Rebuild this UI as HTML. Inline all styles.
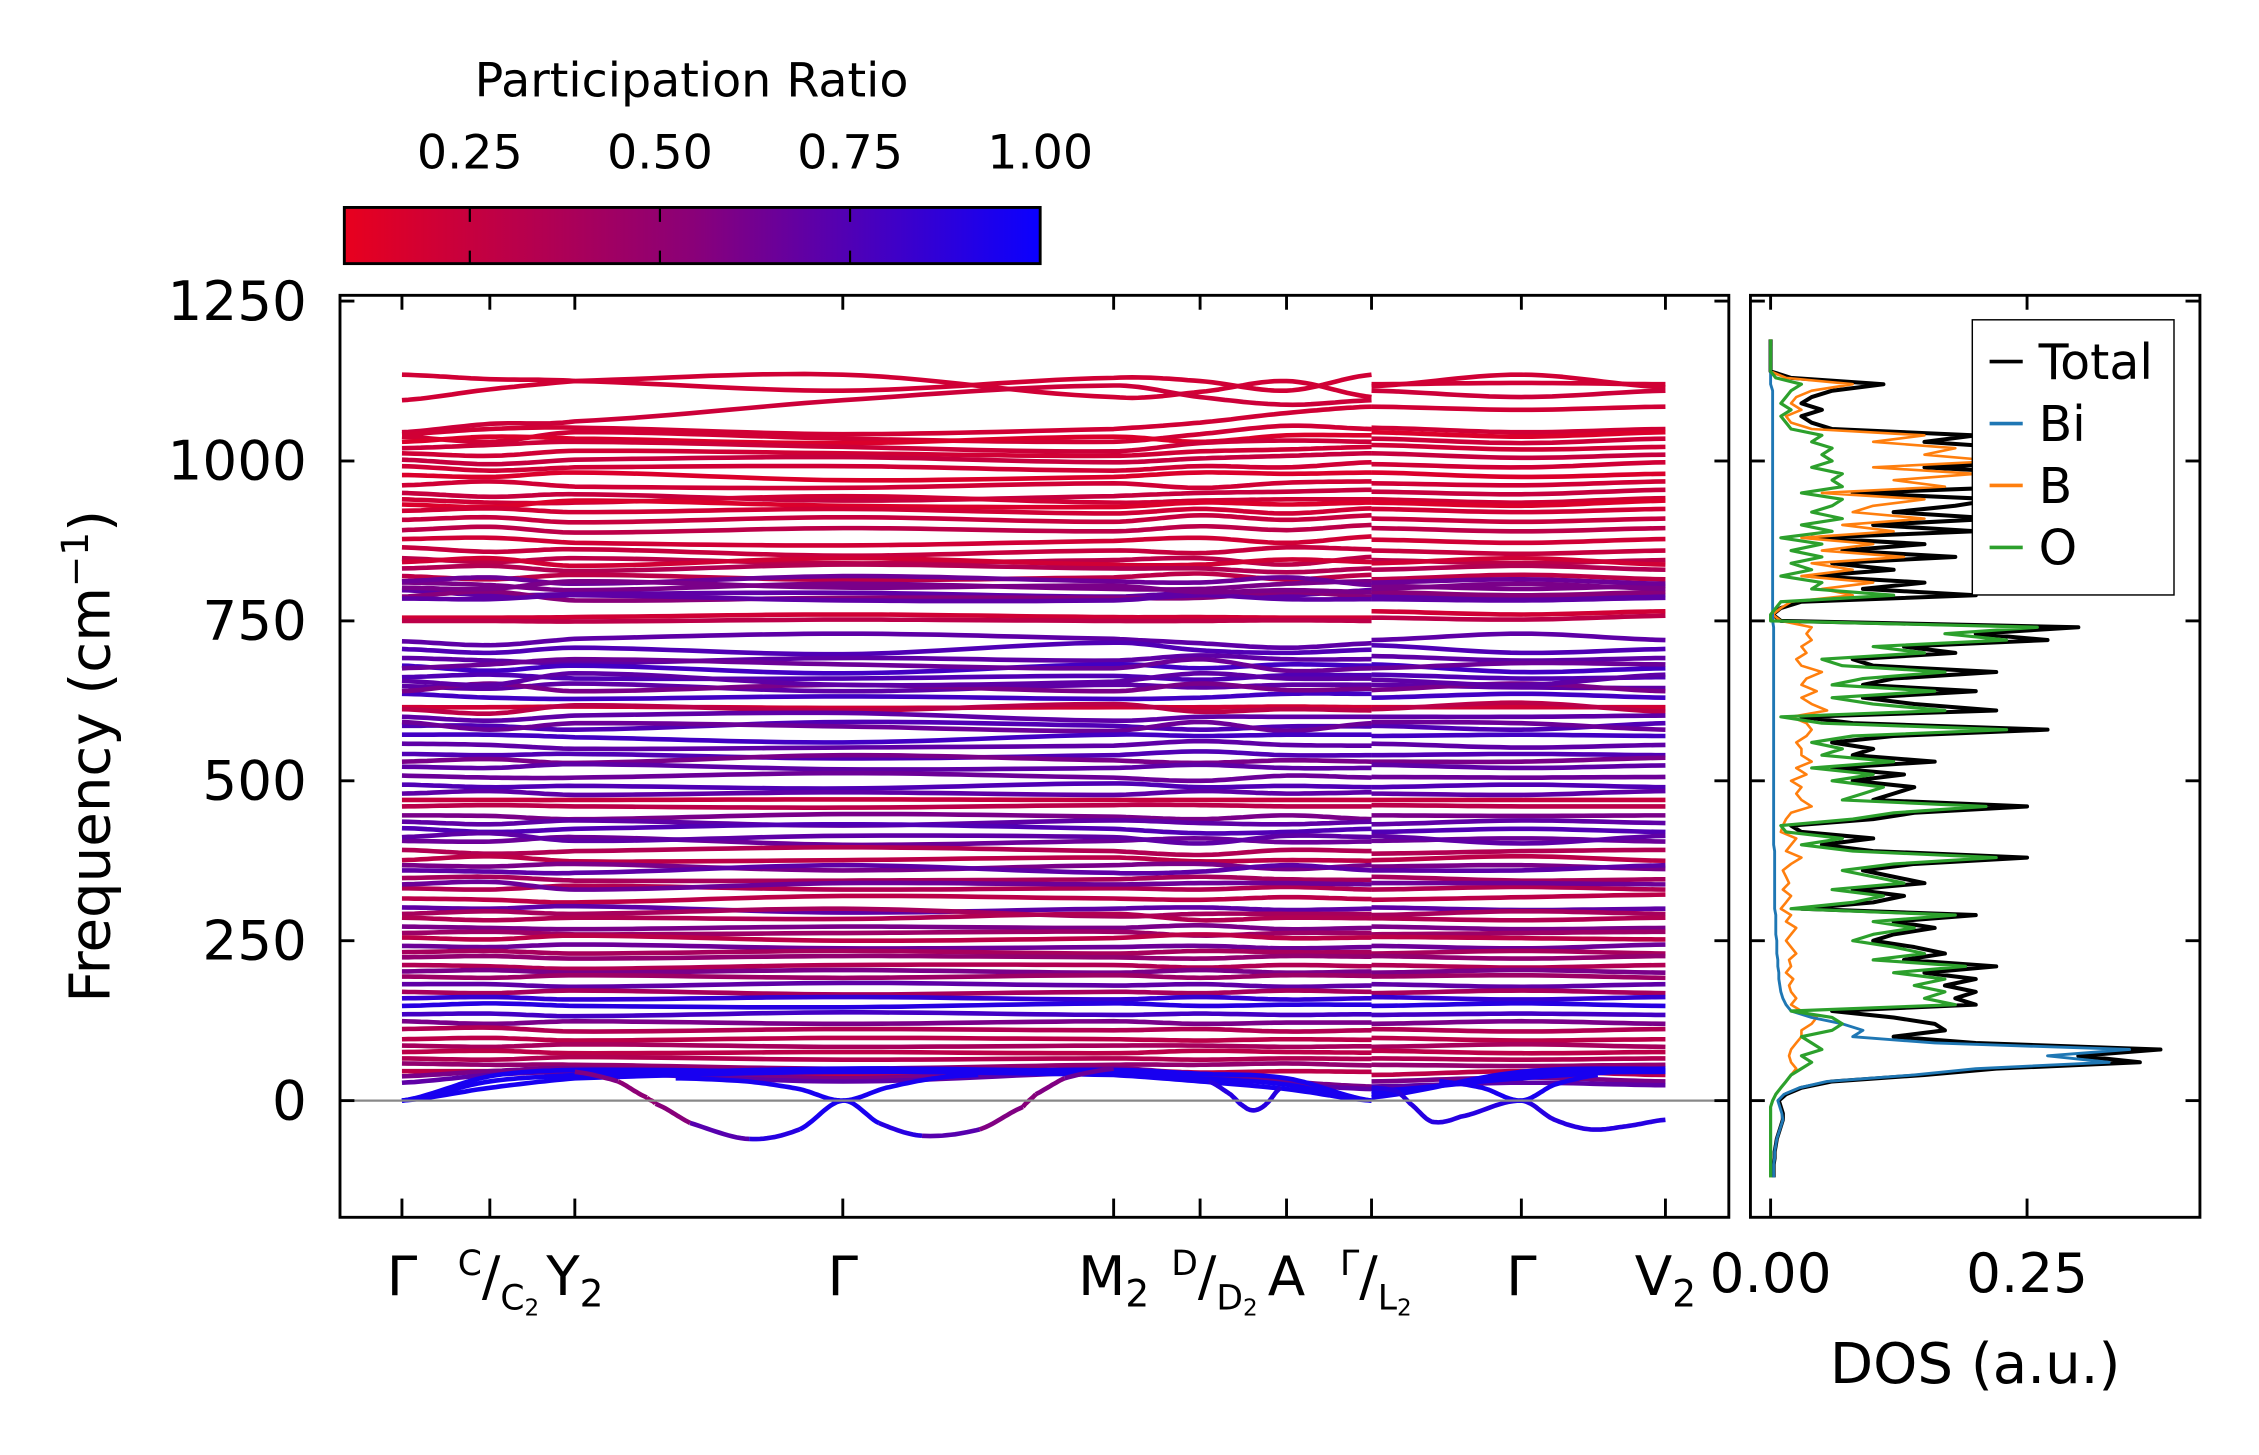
<!DOCTYPE html>
<html><head><meta charset="utf-8"><style>
html,body{margin:0;padding:0;background:#fff}
svg{display:block}
text{font-family:"DejaVu Sans","Liberation Sans",sans-serif;fill:#000}
</style></head><body>
<svg id="fig" width="2259" height="1455" viewBox="0 0 1568 1010" preserveAspectRatio="none" xmlns="http://www.w3.org/2000/svg">
<defs>
<linearGradient id="cmap" x1="0" x2="1" y1="0" y2="0">
<stop offset="0" stop-color="#e8001e"/><stop offset="0.5" stop-color="#8a0078"/><stop offset="1" stop-color="#0a00ff"/>
</linearGradient>
<clipPath id="mainclip"><rect x="236" y="205" width="964" height="640"/></clipPath>
<clipPath id="dosclip"><rect x="1215" y="205" width="312" height="640"/></clipPath>
</defs>
<g>
<text x="480" y="67" font-size="33" text-anchor="middle">Participation Ratio</text>
<rect x="239" y="144" width="483" height="39" fill="url(#cmap)" stroke="#000" stroke-width="2"/>
<g id="cbticks"></g>
</g>
<g id="main">
<g id="bands" clip-path="url(#mainclip)"></g>
<line x1="236" x2="1200" y1="764" y2="764" stroke="#888" stroke-width="1.5"/>
<rect x="236" y="205" width="964" height="640" fill="none" stroke="#000" stroke-width="2"/>
<g id="mainticks"></g>
<text transform="translate(76,525) rotate(-90)" font-size="39" text-anchor="middle">Frequency (cm<tspan font-size="26" dy="-15">−1</tspan><tspan dy="15">)</tspan></text>
</g>
<g id="dos">
<g id="doslines" clip-path="url(#dosclip)"></g>
<rect x="1215" y="205" width="312" height="640" fill="none" stroke="#000" stroke-width="2"/>
<g id="dosticks"></g>
<text x="1371" y="960" font-size="39" text-anchor="middle">DOS (a.u.)</text>
<g>
<rect x="1369" y="222" width="140" height="191" fill="#fff" stroke="#000" stroke-width="1"/>
<g id="legend"></g>
</g>
</g>
</svg>
<script>
// ---- data ----
const kNodes = [0, 0.61, 1.20, 3.06, 4.94, 5.54, 6.14, 6.73, 6.73, 7.77, 8.77];
const uniqK = [0, 0.61, 1.20, 3.06, 4.94, 5.54, 6.14, 6.73, 7.77, 8.77];
const yTicks = [0, 250, 500, 750, 1000, 1250];
const dosTicks = [0.00, 0.25];
const cbTicks = [0.25, 0.50, 0.75, 1.00];
const bandPR = [
0.2,0.2,0.22,0.2,0.2,0.15,0.22,0.2,0.25,0.2,0.15,0.2,0.25,0.2,0.15,0.2,0.25,0.3,0.2,0.25,0.3,0.2,0.35,0.3,0.6,0.7,0.55,0.65,0.7,0.6,0.2,0.3,
0.7,0.75,0.7,0.8,0.65,0.75,0.7,0.8,0.6,0.7,0.2,0.3,0.7,0.75,0.65,0.8,0.7,0.75,0.6,0.7,0.65,0.75,0.7,0.25,0.3,0.6,0.7,0.75,0.65,0.7,
0.35,0.3,0.6,0.7,0.4,0.35,0.65,0.3,0.7,0.4,0.35,0.6,0.45,0.3,0.65,0.4,0.5,0.35,0.6,0.45,0.7,0.4,0.85,0.9,0.8,0.6,0.35,0.3,0.4,0.3,0.35,0.5,0.3,0.6,0.7,0.95,0.95,0.95];
const bandFreq = [
[1135,1128,1125,1110,1130,1125,1110,1135,1120,1122,1120],
[1095,1112,1125,1135,1100,1108,1125,1100,1117,1135,1115],
[1045,1058,1062,1095,1118,1100,1088,1095,1110,1100,1110],
[1042,1050,1052,1042,1050,1060,1075,1085,1085,1080,1085],
[1038,1030,1045,1035,1030,1042,1055,1050,1052,1045,1050],
[1030,1038,1035,1028,1038,1030,1040,1040,1045,1038,1045],
[1020,1025,1030,1022,1015,1028,1032,1030,1035,1028,1035],
[1012,1008,1016,1012,1008,1015,1018,1022,1025,1018,1022],
[1002,995,1002,1006,998,1004,1008,1012,1012,1005,1010],
[992,985,990,992,985,992,990,998,995,990,998],
[978,975,982,970,975,982,980,982,982,975,980],
[962,968,960,958,965,958,966,968,965,962,968],
[950,944,948,938,945,950,952,955,952,948,955],
[940,935,935,945,935,938,940,940,940,935,942],
[932,928,938,930,928,935,932,935,935,930,938],
[922,926,920,925,918,925,918,926,925,920,925],
[908,912,904,912,905,915,908,915,910,905,910],
[892,897,888,895,890,898,892,900,895,890,895],
[878,880,872,868,875,880,872,882,877,872,878],
[865,858,862,852,860,856,865,862,860,855,860],
[848,842,848,840,845,848,838,850,845,840,845],
[842,848,836,848,838,838,846,842,840,848,838],
[832,836,828,838,832,832,826,832,830,836,830],
[820,815,822,814,818,824,815,822,815,822,815],
[810,806,798,808,800,800,808,812,805,800,805],
[798,790,792,794,788,794,790,798,790,785,790],
[788,796,782,786,786,786,795,788,795,790,795],
[812,818,808,820,812,810,818,806,810,815,808],
[785,784,790,782,782,790,784,784,784,782,786],
[802,800,812,802,805,795,798,795,800,808,800],
[755,755,756,760,756,756,755,755,765,760,765],
[750,750,749,752,750,750,751,750,755,752,758],
[718,712,722,730,722,715,708,715,720,730,720],
[706,700,708,698,716,704,700,705,712,700,706],
[692,688,684,692,688,696,690,690,695,688,692],
[680,672,680,668,682,676,682,680,682,670,676],
[676,682,690,682,676,690,672,676,676,684,682],
[662,666,660,660,664,658,665,665,666,660,662],
[648,644,652,640,650,646,650,650,650,646,645],
[636,630,628,632,628,630,636,636,630,636,630],
[640,652,640,650,640,652,642,644,642,652,640],
[656,650,668,650,655,668,660,660,658,650,666],
[615,615,616,614,615,615,616,615,615,615,615],
[612,605,618,610,620,608,612,610,612,622,608],
[600,594,602,606,594,600,600,600,600,600,602],
[586,586,580,592,586,580,585,585,586,580,590],
[592,580,590,585,578,592,578,590,592,590,580],
[572,572,568,560,572,570,572,572,570,572,570],
[558,556,550,552,555,562,556,555,558,552,556],
[542,540,542,535,540,546,540,540,540,542,540],
[530,534,528,540,532,528,532,530,530,530,536],
[522,520,526,518,520,525,520,520,525,520,524],
[508,505,505,512,505,500,508,505,506,505,506],
[494,490,492,488,496,490,492,490,490,494,490],
[480,484,478,482,478,484,480,482,480,478,484],
[470,470,470,471,470,470,470,470,470,470,470],
[460,462,460,458,462,462,460,460,462,460,460],
[446,445,440,448,444,440,446,440,446,445,446],
[436,432,438,430,438,434,432,436,432,438,434],
[426,420,425,432,425,418,420,425,420,425,420],
[406,405,412,400,406,410,404,405,406,410,405],
[412,418,406,414,412,402,414,412,414,402,414],
[392,386,390,396,390,384,392,390,386,390,392],
[376,382,374,376,380,374,376,375,376,382,375],
[368,366,370,360,368,370,362,368,366,368,362],
[360,358,356,368,356,358,368,360,360,360,368],
[348,350,344,344,346,350,346,345,350,344,346],
[332,330,336,330,332,330,334,330,330,334,330],
[338,342,330,340,338,340,340,338,340,340,338],
[316,314,310,320,316,314,318,315,314,318,322],
[302,300,304,294,300,302,298,300,302,298,300],
[292,296,292,300,288,292,292,292,290,296,292],
[286,282,286,284,292,282,286,285,285,282,286],
[272,270,268,272,270,274,268,270,272,268,270],
[262,264,260,262,264,258,262,262,260,262,264],
[255,252,258,250,254,260,254,255,256,254,252],
[242,240,244,238,240,242,238,240,242,238,244],
[232,234,230,234,230,234,232,232,230,234,230],
[224,226,222,226,224,222,226,225,226,222,226],
[212,210,206,212,212,208,212,210,212,208,212],
[202,204,200,204,200,204,200,202,200,204,200],
[194,192,196,192,196,192,196,195,194,196,192],
[182,182,178,184,180,182,178,180,182,178,182],
[170,168,172,166,170,168,172,170,168,172,168],
[160,162,158,162,158,162,158,160,162,158,162],
[148,152,148,146,152,148,150,150,148,152,148],
[135,136,132,138,134,136,134,135,134,136,134],
[124,120,124,120,124,120,122,122,120,124,120],
[112,114,108,112,110,112,108,110,112,108,112],
[96,98,94,98,96,94,96,95,98,94,96],
[86,84,88,84,86,86,84,85,84,88,84],
[76,78,74,76,74,78,76,75,78,74,76],
[66,64,68,64,66,64,66,65,66,64,66],
[58,56,56,50,56,56,58,55,56,54,56],
[46,46,48,40,48,44,46,45,40,46,40],
[38,46,50,35,50,40,30,22,30,36,30],
[28,40,44,30,44,38,26,18,22,28,24],
[0,38,48,45,48,42,35,0,10,40,45],
[0,30,40,50,45,35,25,0,5,45,50],
[0,20,35,45,40,30,18,0,15,35,48]
];
// soft (imaginary) branches
const softAk = [1.2,1.5,1.7,1.76,2.0,2.41,2.76,3.06,3.31,3.61,4.01,4.31,4.4,4.6,4.94];
const softAf = [45,30,5,-5,-35,-60,-45,0,-35,-55,-45,-10,10,35,50];
const softApr = [0.6,0.55,0.5,0.5,0.6,0.85,0.95,0.95,0.95,0.85,0.6,0.55,0.55,0.6,0.7];
const softBk = [1.9,2.4,2.76,3.06,3.36,3.7,4.0];
const softBf = [35,30,18,0,20,35,40];
const softCk = [6.73,6.9,7.0,7.15,7.35,7.77,8.0,8.25,8.5,8.77];
const softCf = [20,15,-5,-33,-25,0,-30,-45,-40,-30];
const softDk = [7.2,7.5,7.77,8.0,8.3];
const softDf = [30,20,0,25,40];
const softEk = [5.6,5.75,5.85,5.92,6.0,6.1];
const softEf = [30,10,-10,-15,-5,20];
// DOS data (frequency grid -120..1190 step 10)
const dosFreq = [];
for (let f = -120; f <= 1190; f += 10) dosFreq.push(f);
const dosTotal = [0.003,0.003,0.003,0.004,0.004,0.005,0.006,0.008,0.01,0.012,0.012,0.01,0.008,0.015,0.03,0.06,0.15,0.22,0.36,0.3,0.38,0.2,0.12,0.17,0.16,0.12,0.06,0.2,0.18,0.2,0.17,0.2,0.15,0.22,0.13,0.17,0.14,0.1,0.12,0.16,0.12,0.2,0.03,0.1,0.13,0.08,0.15,0.12,0.09,0.14,0.25,0.1,0.05,0.1,0.03,0.02,0.1,0.14,0.25,0.1,0.12,0.14,0.08,0.13,0.06,0.16,0.08,0.1,0.06,0.12,0.27,0.08,0.03,0.22,0.14,0.09,0.2,0.09,0.12,0.22,0.1,0.08,0.18,0.13,0.27,0.2,0.3,0.01,0.002,0.01,0.03,0.2,0.09,0.15,0.04,0.12,0.06,0.18,0.07,0.15,0.04,0.2,0.1,0.22,0.12,0.18,0.22,0.08,0.25,0.2,0.27,0.15,0.28,0.2,0.24,0.15,0.2,0.06,0.04,0.03,0.05,0.03,0.04,0.06,0.11,0.02,0,0,0,0,0,0];
const dosBi = [0.003,0.003,0.003,0.004,0.004,0.005,0.006,0.008,0.01,0.012,0.011,0.009,0.007,0.013,0.028,0.055,0.14,0.2,0.33,0.27,0.35,0.16,0.08,0.09,0.07,0.04,0.02,0.015,0.012,0.01,0.009,0.008,0.008,0.007,0.007,0.006,0.006,0.006,0.005,0.005,0.005,0.005,0.004,0.004,0.004,0.004,0.004,0.004,0.004,0.004,0.004,0.004,0.003,0.003,0.003,0.003,0.003,0.003,0.003,0.003,0.003,0.003,0.003,0.003,0.003,0.003,0.003,0.003,0.003,0.003,0.003,0.003,0.003,0.003,0.003,0.003,0.003,0.003,0.003,0.003,0.003,0.003,0.003,0.003,0.003,0.003,0.003,0.002,0.002,0.002,0.002,0.002,0.002,0.002,0.002,0.002,0.002,0.002,0.002,0.002,0.002,0.002,0.002,0.002,0.002,0.002,0.002,0.002,0.002,0.002,0.002,0.002,0.002,0.002,0.002,0.002,0.002,0.002,0.002,0.002,0.002,0.002,0.002,0.002,0,0,0,0,0,0,0];
const dosB = [0,0,0,0,0,0,0,0,0,0,0,0,0.002,0.005,0.01,0.015,0.02,0.025,0.02,0.018,0.02,0.025,0.03,0.03,0.04,0.045,0.03,0.02,0.025,0.02,0.018,0.022,0.015,0.02,0.018,0.025,0.02,0.015,0.02,0.025,0.015,0.02,0.01,0.015,0.02,0.012,0.018,0.015,0.012,0.02,0.03,0.015,0.02,0.025,0.01,0.012,0.015,0.02,0.04,0.03,0.025,0.03,0.02,0.035,0.025,0.04,0.03,0.03,0.025,0.035,0.04,0.035,0.02,0.055,0.04,0.03,0.045,0.03,0.035,0.05,0.03,0.025,0.035,0.03,0.04,0.035,0.04,0.01,0.002,0.01,0.02,0.08,0.05,0.1,0.03,0.08,0.04,0.13,0.05,0.1,0.03,0.12,0.07,0.15,0.08,0.1,0.15,0.05,0.17,0.12,0.2,0.1,0.22,0.15,0.18,0.1,0.15,0.04,0.02,0.015,0.03,0.02,0.025,0.04,0.08,0.015,0,0,0,0,0,0];
const dosO = [0,0,0,0,0,0,0,0,0,0,0,0,0.002,0.005,0.01,0.015,0.02,0.03,0.04,0.03,0.05,0.04,0.03,0.06,0.07,0.06,0.02,0.18,0.15,0.17,0.14,0.17,0.12,0.19,0.1,0.15,0.12,0.08,0.1,0.14,0.1,0.18,0.02,0.08,0.11,0.06,0.13,0.1,0.07,0.12,0.22,0.08,0.03,0.07,0.015,0.01,0.08,0.12,0.21,0.07,0.09,0.11,0.06,0.1,0.04,0.12,0.05,0.07,0.04,0.08,0.23,0.05,0.01,0.17,0.1,0.06,0.16,0.06,0.09,0.17,0.07,0.05,0.15,0.1,0.23,0.17,0.26,0.0,0.0,0.005,0.01,0.12,0.04,0.05,0.01,0.04,0.02,0.05,0.02,0.05,0.01,0.06,0.03,0.07,0.04,0.06,0.07,0.03,0.07,0.06,0.07,0.04,0.06,0.05,0.06,0.04,0.05,0.02,0.015,0.01,0.02,0.01,0.015,0.02,0.03,0.005,0,0,0,0,0,0];

// ---- axis functions ----
const NS = "http://www.w3.org/2000/svg";
const xk = k => 279 + k * 100;
const yf = f => 764 - f * (111 / 250);
const xd = d => 1229 + d * (178 / 0.25);
const xcb = v => 239 + (v - 0.085) / (1 - 0.085) * 483;
function prColor(pr) {
  let t = Math.max(0, Math.min(1, (pr - 0.085) / (1 - 0.085)));
  let r, b;
  if (t < 0.5) { const u = t / 0.5; r = 232 + (138 - 232) * u; b = 30 + (120 - 30) * u; }
  else { const u = (t - 0.5) / 0.5; r = 138 + (10 - 138) * u; b = 120 + (255 - 120) * u; }
  return `rgb(${Math.round(r)},0,${Math.round(b)})`;
}
function mk(tag, attrs, parent) {
  const e = document.createElementNS(NS, tag);
  for (const a in attrs) e.setAttribute(a, attrs[a]);
  parent.appendChild(e);
  return e;
}
function catmull(xs, ys, n) {
  const pts = [];
  for (let i = 0; i < xs.length - 1; i++) {
    const y0 = ys[Math.max(0, i - 1)], y1 = ys[i], y2 = ys[i + 1], y3 = ys[Math.min(ys.length - 1, i + 2)];
    const x1 = xs[i], x2 = xs[i + 1];
    for (let s = 0; s < n; s++) {
      const t = s / n, t2 = t * t, t3 = t2 * t;
      const py = 0.5 * ((2 * y1) + (-y0 + y2) * t + (2 * y0 - 5 * y1 + 4 * y2 - y3) * t2 + (-y0 + 3 * y1 - 3 * y2 + y3) * t3);
      pts.push([x1 + (x2 - x1) * t, py]);
    }
  }
  pts.push([xs[xs.length - 1], ys[ys.length - 1]]);
  return pts;
}
const bandsG = document.getElementById('bands');
function drawPiece(ks, fs, color, name) {
  const pts = catmull(ks.map(xk), fs.map(yf), 14);
  const p = mk('polyline', {points: pts.map(p => p[0].toFixed(1) + ',' + p[1].toFixed(1)).join(' '), fill: 'none', stroke: color, 'stroke-width': 3.2, 'stroke-linejoin': 'round'}, bandsG);
  
  
}
bandFreq.forEach((row, i) => {
  const c = prColor(bandPR[i]);
  drawPiece(kNodes.slice(0, 8), row.slice(0, 8), c, 'phonon-band');
  drawPiece(kNodes.slice(8), row.slice(8), c, 'phonon-band');
});
(function () {
  const all = catmull(softAk.map(xk), softAf.map(yf), 14);
  for (let i = 0; i < softAk.length - 1; i++) {
    const pts = all.filter(p => p[0] >= xk(softAk[i]) - 0.01 && p[0] <= xk(softAk[i + 1]) + 0.01);
    const p = mk('polyline', {points: pts.map(p => p[0].toFixed(1) + ',' + p[1].toFixed(1)).join(' '), fill: 'none', stroke: prColor((softApr[i] + softApr[i + 1]) / 2), 'stroke-width': 3.2}, bandsG);
    
    
  }
})();
drawPiece(softBk, softBf, prColor(0.95), 'soft-mode-branch');
drawPiece(softCk, softCf, prColor(0.9), 'soft-mode-branch');
drawPiece(softDk, softDf, prColor(0.95), 'soft-mode-branch');
drawPiece(softEk, softEf, prColor(0.9), 'soft-mode-branch');

// main ticks
const mt = document.getElementById('mainticks');
yTicks.forEach(v => {
  const y = yf(v);
  let l = mk('line', {x1: 236, x2: 246, y1: y, y2: y, stroke: '#000', 'stroke-width': 2}, mt);
   
  l = mk('line', {x1: 1190, x2: 1200, y1: y, y2: y, stroke: '#000', 'stroke-width': 2}, mt);
   
  const t = mk('text', {x: 213, y: y + 13, 'font-size': 38, 'text-anchor': 'end'}, mt);
  t.textContent = v;
   
});
uniqK.forEach(k => {
  const x = xk(k);
  let l = mk('line', {x1: x, x2: x, y1: 845, y2: 832, stroke: '#000', 'stroke-width': 2}, mt);
   
  l = mk('line', {x1: x, x2: x, y1: 205, y2: 215, stroke: '#000', 'stroke-width': 2}, mt);
   
});
const kl = [
  {x: 279, html: 'Γ'},
  {x: 346, html: '<tspan font-size="24" dy="-14">C</tspan><tspan dy="14">/</tspan><tspan font-size="24" dy="10">C</tspan><tspan font-size="16" dy="4">2</tspan>'},
  {x: 399, html: 'Y<tspan font-size="26" dy="8">2</tspan>'},
  {x: 585, html: 'Γ'},
  {x: 773, html: 'M<tspan font-size="26" dy="8">2</tspan>'},
  {x: 843, html: '<tspan font-size="24" dy="-14">D</tspan><tspan dy="14">/</tspan><tspan font-size="24" dy="10">D</tspan><tspan font-size="16" dy="4">2</tspan>'},
  {x: 893, html: 'A'},
  {x: 955, html: '<tspan font-size="24" dy="-14">Γ</tspan><tspan dy="14">/</tspan><tspan font-size="24" dy="10">L</tspan><tspan font-size="16" dy="4">2</tspan>'},
  {x: 1056, html: 'Γ'},
  {x: 1156, html: 'V<tspan font-size="26" dy="8">2</tspan>'}
];
kl.forEach(o => {
  const t = mk('text', {x: o.x, y: 899, 'font-size': 38, 'text-anchor': 'middle'}, mt);
  t.innerHTML = o.html;
   
});

// colorbar ticks
const cbt = document.getElementById('cbticks');
cbTicks.forEach(v => {
  const x = xcb(v);
  const l = mk('line', {x1: x, x2: x, y1: 144, y2: 183, stroke: '#000', 'stroke-width': 1.5, 'stroke-dasharray': '10,20'}, cbt);
   
  const t = mk('text', {x: x, y: 117, 'font-size': 33, 'text-anchor': 'middle'}, cbt);
  t.textContent = v.toFixed(2);
   
});

// DOS
const dl = document.getElementById('doslines');
function dosLine(vals, color, name, w) {
  const pts = vals.map((v, i) => xd(v).toFixed(1) + ',' + yf(dosFreq[i]).toFixed(1)).join(' ');
  const p = mk('polyline', {points: pts, fill: 'none', stroke: color, 'stroke-width': w, 'stroke-linejoin': 'round'}, dl);
   
}
dosLine(dosTotal, '#000', 'dos-total-line', 2.8);
dosLine(dosB, '#ff7f0e', 'dos-b-line', 1.8);
dosLine(dosBi, '#1f77b4', 'dos-bi-line', 2);
dosLine(dosO, '#2ca02c', 'dos-o-line', 2.2);
const dt = document.getElementById('dosticks');
yTicks.forEach(v => {
  const y = yf(v);
  let l = mk('line', {x1: 1215, x2: 1225, y1: y, y2: y, stroke: '#000', 'stroke-width': 2}, dt);
   
  l = mk('line', {x1: 1517, x2: 1527, y1: y, y2: y, stroke: '#000', 'stroke-width': 2}, dt);
   
});
dosTicks.forEach(v => {
  const x = xd(v);
  let l = mk('line', {x1: x, x2: x, y1: 845, y2: 832, stroke: '#000', 'stroke-width': 2}, dt);
   
  l = mk('line', {x1: x, x2: x, y1: 205, y2: 215, stroke: '#000', 'stroke-width': 2}, dt);
   
  const t = mk('text', {x: x, y: 897, 'font-size': 38, 'text-anchor': 'middle'}, dt);
  t.textContent = v.toFixed(2);
   
});
// legend
const lg = document.getElementById('legend');
const legItems = [['Total', '#000'], ['Bi', '#1f77b4'], ['B', '#ff7f0e'], ['O', '#2ca02c']];
legItems.forEach((it, i) => {
  const y = 251 + i * 43;
  const l = mk('line', {x1: 1381, x2: 1404, y1: y, y2: y, stroke: it[1], 'stroke-width': 2.5}, lg);
   
  const t = mk('text', {x: 1415, y: y + 12, 'font-size': 34}, lg);
  t.textContent = it[0];
   
});
</script>
</body></html>
